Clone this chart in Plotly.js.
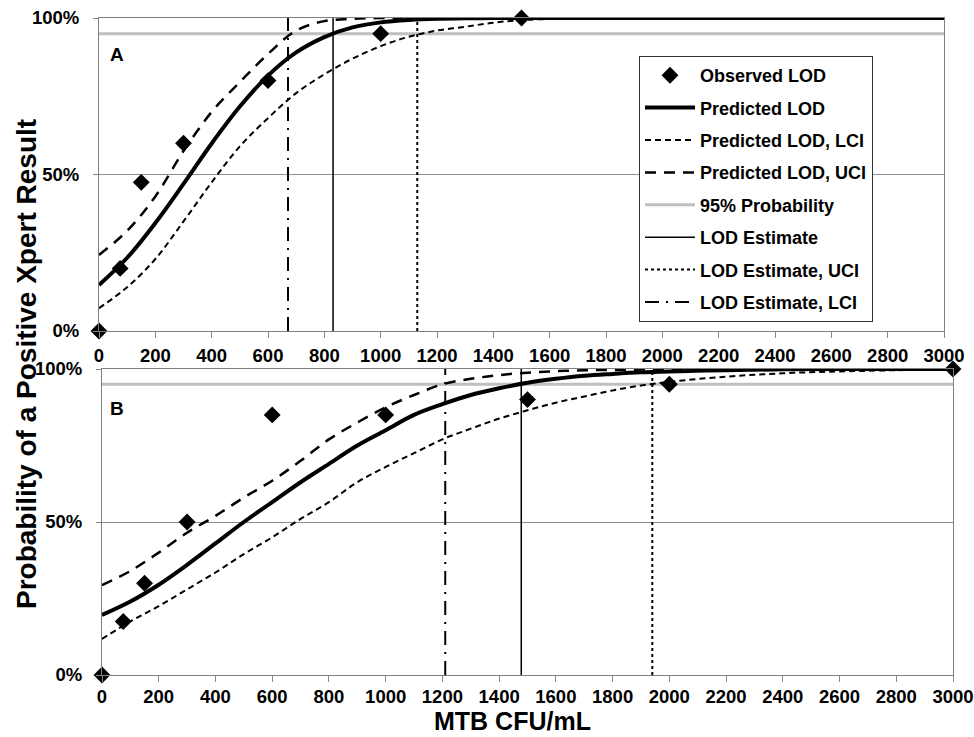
<!DOCTYPE html>
<html>
<head>
<meta charset="utf-8">
<script src="https://cdn.plot.ly/plotly-3.0.1.min.js"></script>
<style>html,body{margin:0;padding:0;background:#fff;}#chart{width:974px;height:737px;}</style>
</head>
<body>
<div id="chart"></div>
<script>
// ---- data ----
var xFit = [0,100,200,300,400,500,600,700,800,900,1000,1100,1200,1300,1400,1500,1600,1700,1800,1900,2000,2200,2400,2600,2800,3000];

// Panel A
var obsAx = [0,75,150,300,600,1000,1500];
var obsAy = [0,0.20,0.475,0.60,0.80,0.95,1.0];
var predA = [0.147,0.234,0.345,0.470,0.599,0.717,0.816,0.890,0.939,0.970,0.986,0.994,0.998,0.999,1,1,1,1,1,1,1,1,1,1,1,1];
var lciA  = [0.073,0.14,0.23,0.35,0.475,0.59,0.68,0.76,0.82,0.87,0.91,0.94,0.96,0.972,0.985,0.993,0.997,0.999,1,1,1,1,1,1,1,1];
var uciA  = [0.243,0.32,0.43,0.575,0.70,0.795,0.885,0.96,0.99,0.997,1,1,1,1,1,1,1,1,1,1,1,1,1,1,1,1];
var lodA = {lci: 671, est: 831, uci: 1130};

// Panel B
var obsBx = [0,75,150,300,600,1000,1500,2000,3000];
var obsBy = [0,0.175,0.30,0.50,0.85,0.85,0.90,0.95,1.0];
var predB = [0.196,0.24,0.295,0.36,0.43,0.50,0.565,0.63,0.69,0.75,0.80,0.85,0.885,0.915,0.937,0.955,0.968,0.978,0.984,0.989,0.992,0.996,0.999,1,1,1];
var lciB  = [0.118,0.175,0.225,0.28,0.335,0.395,0.45,0.51,0.565,0.63,0.68,0.725,0.77,0.805,0.838,0.865,0.89,0.91,0.93,0.946,0.958,0.975,0.986,0.992,0.996,0.998];
var uciB  = [0.294,0.34,0.40,0.465,0.52,0.58,0.635,0.70,0.77,0.825,0.875,0.915,0.95,0.968,0.98,0.988,0.993,0.996,0.997,0.998,1,1,1,1,1,1];
var lodB = {lci: 1210, est: 1478, uci: 1940};

var prob95 = 0.95;
var xMax = 3000;

var names = ["Observed LOD","Predicted LOD","Predicted LOD, LCI","Predicted LOD, UCI","95% Probability","LOD Estimate","LOD Estimate, UCI","LOD Estimate, LCI"];
var yTickVals = [0,0.5,1];
var yTickText = ["0%","50%","100%"];

// ---- build traces ----
function panel(xa, ya, obsX, obsY, pred, lci, uci, lod, show) {
  var t = [];
  function base(name, rank) {
    return {xaxis: xa, yaxis: ya, name: name, showlegend: show, legendrank: rank, legendgroup: 'g' + rank, cliponaxis: false, hoverinfo: 'skip'};
  }
  var g = base(names[4], 5); g.x = [0, xMax]; g.y = [prob95, prob95]; g.mode = 'lines'; g.line = {color: '#bfbfbf', width: 3}; t.push(g);
  var e = base(names[5], 6); e.x = [lod.est, lod.est]; e.y = [0, 1]; e.mode = 'lines'; e.line = {color: '#000', width: 1.5}; t.push(e);
  var u = base(names[6], 7); u.x = [lod.uci, lod.uci]; u.y = [0, 1]; u.mode = 'lines'; u.line = {color: '#000', width: 2, dash: 'dot'}; t.push(u);
  var l = base(names[7], 8); l.x = [lod.lci, lod.lci]; l.y = [0, 1]; l.mode = 'lines'; l.line = {color: '#000', width: 2, dash: '14px,7px,2px,7px'}; t.push(l);
  var lc = base(names[2], 3); lc.x = xFit; lc.y = lci; lc.mode = 'lines'; lc.line = {color: '#000', width: 2, dash: '6px,4px', shape: 'spline', smoothing: 1}; t.push(lc);
  var uc = base(names[3], 4); uc.x = xFit; uc.y = uci; uc.mode = 'lines'; uc.line = {color: '#000', width: 2.5, dash: '11px,8px', shape: 'spline', smoothing: 1}; t.push(uc);
  var p = base(names[1], 2); p.x = xFit; p.y = pred; p.mode = 'lines'; p.line = {color: '#000', width: 4, shape: 'spline', smoothing: 1}; t.push(p);
  var o = base(names[0], 1); o.x = obsX; o.y = obsY; o.mode = 'markers'; o.marker = {symbol: 'diamond', size: 13, color: '#000'}; t.push(o);
  return t;
}

var data = panel('x', 'y', obsAx, obsAy, predA, lciA, uciA, lodA, true)
  .concat(panel('x2', 'y2', obsBx, obsBy, predB, lciB, uciB, lodB, false));

var FONT = 'Liberation Sans, Arial, sans-serif';
var tickFont = {family: FONT, size: 18.5, color: '#000', weight: 'bold'};
function xAxis(domain, anchor, standoff) {
  return {domain: domain, anchor: anchor, range: [0, xMax], tickmode: 'linear', tick0: 0, dtick: 200,
    ticks: 'outside', ticklen: 6, tickcolor: '#888', tickwidth: 1, showgrid: false, zeroline: false,
    showline: true, linecolor: '#7f7f7f', linewidth: 1, mirror: true, tickfont: tickFont, ticklabelstandoff: standoff,
    ticklabeloverflow: 'allow', fixedrange: true};
}
function yAxis(domain, anchor) {
  return {domain: domain, anchor: anchor, range: [0, 1], tickvals: yTickVals, ticktext: yTickText,
    ticks: 'outside', ticklen: 5, tickcolor: '#888', showgrid: true, gridcolor: '#8c8c8c', gridwidth: 1, zeroline: false,
    showline: true, linecolor: '#7f7f7f', linewidth: 1, mirror: true, tickfont: tickFont, ticklabelstandoff: 10,
    ticklabeloverflow: 'allow', fixedrange: true};
}

var layout = {
  width: 974, height: 737,
  margin: {l: 0, r: 0, t: 0, b: 0},
  paper_bgcolor: '#fff', plot_bgcolor: '#fff',
  showlegend: true,
  xaxis: xAxis([99/974, 944/974], 'y', 2),
  yaxis: yAxis([1 - 331/737, 1 - 18/737], 'x'),
  xaxis2: xAxis([102/974, 953/974], 'y2', -1),
  yaxis2: yAxis([1 - 675/737, 1 - 369/737], 'x2'),
  legend: {x: 639/974, y: 1 - 56/737, xanchor: 'left', yanchor: 'top', bgcolor: '#fff',
    bordercolor: '#333', borderwidth: 1, itemwidth: 50, tracegroupgap: 6,
    font: {family: FONT, size: 18, color: '#000', weight: 'bold'}},
  annotations: [
    {xref: 'paper', yref: 'paper', x: 26/974, y: 1 - 364/737, text: 'Probability of a Positive Xpert Result', textangle: -90, showarrow: false,
      font: {family: FONT, size: 28, color: '#000', weight: 'bold'}, xanchor: 'center', yanchor: 'middle'},
    {xref: 'paper', yref: 'paper', x: 512/974, y: 1 - 721/737, text: 'MTB CFU/mL', showarrow: false,
      font: {family: FONT, size: 25, color: '#000', weight: 'bold'}, xanchor: 'center', yanchor: 'middle'},
    {xref: 'paper', yref: 'paper', x: 117/974, y: 1 - 55/737, text: 'A', showarrow: false,
      font: {family: FONT, size: 19, color: '#000', weight: 'bold'}, xanchor: 'center', yanchor: 'middle'},
    {xref: 'paper', yref: 'paper', x: 117/974, y: 1 - 408/737, text: 'B', showarrow: false,
      font: {family: FONT, size: 19, color: '#000', weight: 'bold'}, xanchor: 'center', yanchor: 'middle'}
  ]
};

Plotly.newPlot('chart', data, layout, {displayModeBar: false, staticPlot: true});
</script>
</body>
</html>
